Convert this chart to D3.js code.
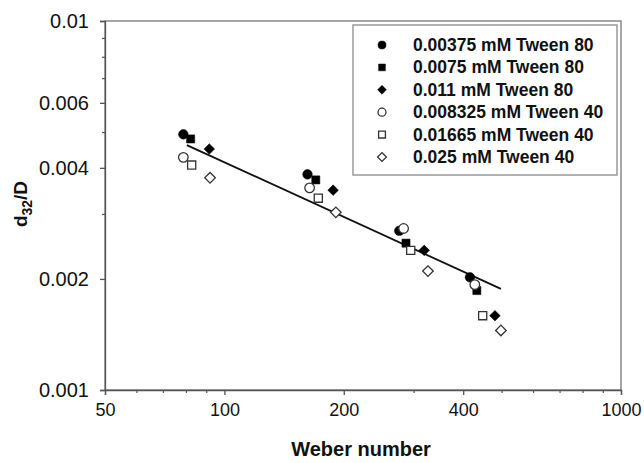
<!DOCTYPE html>
<html><head><meta charset="utf-8">
<script src="https://cdn.jsdelivr.net/npm/d3@7"></script>
<style>body{margin:0;background:#fff}svg{display:block;font-family:"Liberation Sans",Arial,sans-serif}</style>
</head><body><svg id="c" width="644" height="463"></svg>
<script>
// ---- data ----
const seriesNames = ["0.00375 mM Tween 80","0.0075 mM Tween 80","0.011 mM Tween 80",
                     "0.008325 mM Tween 40","0.01665 mM Tween 40","0.025 mM Tween 40"];
const seriesShapes = ["circle","square","diamond","circle","square","diamond"];
const seriesFilled = [true,true,true,false,false,false];
const weber1 = [78.8, 162, 276, 416];   const d32_1 = [0.00493, 0.00384, 0.00270, 0.00202];
const weber2 = [82.2, 170, 287, 433];   const d32_2 = [0.00479, 0.00371, 0.00250, 0.00186];
const weber3 = [91.6, 188, 319, 481];   const d32_3 = [0.00450, 0.00348, 0.00239, 0.00159];
const weber4 = [78.8, 164, 283, 428];   const d32_4 = [0.00427, 0.00353, 0.00274, 0.00193];
const weber5 = [82.7, 172.5, 295, 448]; const d32_5 = [0.00407, 0.00331, 0.00239, 0.00159];
const weber6 = [92.0, 191, 326, 498];   const d32_6 = [0.00376, 0.00303, 0.00210, 0.00145];
const trendWeber = [80.4, 498];
const trendD32 = [0.00461, 0.00188];
const xTickValues = [50, 100, 200, 400, 1000];
const xMinorTicks = [60, 70, 80, 90, 300, 500, 600, 700, 800, 900];
const yTickValues = [0.001, 0.002, 0.004, 0.006, 0.01];
const yMinorTicks = [0.003, 0.005, 0.007, 0.008, 0.009];
const xDomain = [50, 1000];
const yDomain = [0.001, 0.01];

const weberAll = [weber1, weber2, weber3, weber4, weber5, weber6];
const d32All = [d32_1, d32_2, d32_3, d32_4, d32_5, d32_6];

// ---- layout ----
const svg = d3.select("#c");
const L = 105, R = 621, T = 21, B = 390;
const x = d3.scaleLog().domain(xDomain).range([L, R]);
const y = d3.scaleLog().domain(yDomain).range([B, T]);
const axisColor = "#555";

// frame
svg.append("rect").attr("x", L).attr("y", T).attr("width", R - L).attr("height", B - T)
  .attr("fill", "none").attr("stroke", "#777").attr("stroke-width", 1.3);

// x axis
const gx = svg.append("g").attr("transform", `translate(0,${B})`)
  .call(d3.axisBottom(x).tickValues(xTickValues).tickFormat(d3.format("d")).tickSize(5).tickPadding(8));
gx.select(".domain").attr("stroke", axisColor).attr("stroke-width", 1.3);
gx.selectAll(".tick line").attr("stroke", axisColor).attr("stroke-width", 1.3);
gx.selectAll("text").attr("font-size", 18).attr("fill", "#111").attr("font-family", "Liberation Sans, Arial");
const gxm = svg.append("g").attr("transform", `translate(0,${B})`)
  .call(d3.axisBottom(x).tickValues(xMinorTicks).tickFormat("").tickSize(3));
gxm.select(".domain").remove();
gxm.selectAll(".tick line").attr("stroke", axisColor).attr("stroke-width", 1.2);

// y axis
const gy = svg.append("g").attr("transform", `translate(${L},0)`)
  .call(d3.axisLeft(y).tickValues(yTickValues).tickFormat(d => String(+d.toPrecision(3))).tickSize(5).tickPadding(11));
gy.select(".domain").attr("stroke", axisColor).attr("stroke-width", 1.3);
gy.selectAll(".tick line").attr("stroke", axisColor).attr("stroke-width", 1.3);
gy.selectAll("text").attr("font-size", 20).attr("fill", "#111").attr("font-family", "Liberation Sans, Arial");
const gym = svg.append("g").attr("transform", `translate(${L},0)`)
  .call(d3.axisLeft(y).tickValues(yMinorTicks).tickFormat("").tickSize(3));
gym.select(".domain").remove();
gym.selectAll(".tick line").attr("stroke", axisColor).attr("stroke-width", 1.2);

// axis titles
svg.append("text").attr("x", (L + R) / 2 - 2).attr("y", 456).attr("text-anchor", "middle")
  .attr("font-size", 20).attr("font-weight", "bold").attr("fill", "#111").text("Weber number");
const yt = svg.append("text").attr("transform", "translate(27,204) rotate(-90)")
  .attr("text-anchor", "middle").attr("font-size", 19).attr("font-weight", "bold").attr("fill", "#111");
yt.append("tspan").text("d");
yt.append("tspan").attr("font-size", 14).attr("dy", 5).text("32");
yt.append("tspan").attr("dy", -5).text("/D");

// trend line
svg.append("line")
  .attr("x1", x(trendWeber[0])).attr("y1", y(trendD32[0]))
  .attr("x2", x(trendWeber[1])).attr("y2", y(trendD32[1]))
  .attr("stroke", "#111").attr("stroke-width", 1.8);

// markers
function symPath(shape, scale) {
  if (shape === "circle") return d3.symbol(d3.symbolCircle, 72 * scale)();
  if (shape === "square") return d3.symbol(d3.symbolSquare, 66 * scale)();
  return d3.symbol(d3.symbolSquare, 56 * scale)();
}
function drawMarker(g, shape, filled, cx, cy, scale) {
  const rot = shape === "diamond" ? " rotate(45)" : "";
  g.append("path").attr("d", symPath(shape, scale))
    .attr("transform", `translate(${cx},${cy})${rot}`)
    .attr("fill", filled ? "#000" : "#fff")
    .attr("stroke", filled ? "#000" : "#333")
    .attr("stroke-width", filled ? 0.5 : 1.3);
}
const gm = svg.append("g");
weberAll.forEach((xs, i) => {
  xs.forEach((w, j) => drawMarker(gm, seriesShapes[i], seriesFilled[i], x(w), y(d32All[i][j]), 1));
});

// legend
const lg = svg.append("g");
lg.append("rect").attr("x", 353).attr("y", 25).attr("width", 264).attr("height", 150)
  .attr("fill", "#fff").attr("stroke", "#999").attr("stroke-width", 1.5);
seriesNames.forEach((name, i) => {
  const yy = 45 + i * 22.4;
  drawMarker(lg, seriesShapes[i], seriesFilled[i], 382, yy, 0.7);
  lg.append("text").attr("x", 413).attr("y", yy + 6).attr("font-size", 17.5).attr("font-weight", "bold")
    .attr("fill", "#111").text(name);
});
</script></body></html>
